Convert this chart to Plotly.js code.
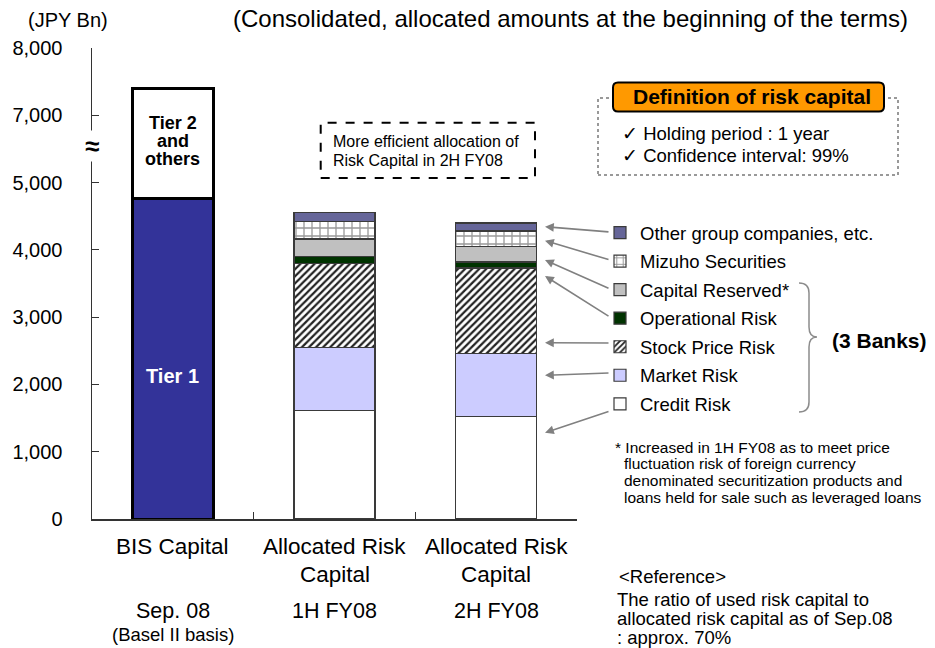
<!DOCTYPE html>
<html><head><meta charset="utf-8">
<script src="https://cdn.plot.ly/plotly-3.0.1.min.js"></script>
<style>html,body{margin:0;padding:0;background:#fff}#chart{width:935px;height:648px}</style>
</head><body><div id="chart"></div>
<script>
// ---------------- data ----------------
const periods = ["Sep. 08", "1H FY08", "2H FY08"];
const categoryTitles = [["BIS Capital"], ["Allocated Risk", "Capital"], ["Allocated Risk", "Capital"]];
const periodNotes = ["(Basel II basis)", "", ""];

// BIS capital, Sep. 08 (JPY Bn)
const tier1 = [4770];
const tier2AndOthers = [2630];
// the y axis skips 5,000-6,000 (shown by the break mark)
const AXIS_BREAK = 1000;
const BREAK_AT = 5000;

// Allocated risk capital (JPY Bn) for [1H FY08, 2H FY08]
const riskPeriods = ["1H FY08", "2H FY08"];
const creditRisk = [1610, 1520];
const marketRisk = [940, 940];
const stockPriceRisk = [1250, 1270];
const operationalRisk = [100, 90];
const capitalReserved = [260, 230];
const mizuhoSecurities = [260, 230];
const otherGroup = [130, 120];

const yTickValues = [0, 1000, 2000, 3000, 4000, 5000, 7000, 8000];
const yTickText = ["0", "1,000", "2,000", "3,000", "4,000", "5,000", "7,000", "8,000"];

// ---------------- geometry helpers ----------------
const W = 935, H = 648, M = {l: 92, r: 358, t: 48, b: 129};
const PW = W - M.l - M.r, PH = H - M.t - M.b;
const px = x => (x - M.l) / PW;
const py = y => (H - M.b - y) / PH;
const FONT = "Liberation Sans, Arial, sans-serif";
const drawn = v => (v > BREAK_AT ? v - AXIS_BREAK : v);

// ---------------- traces ----------------
const lineCol = "#3a3a3a";
const traces = [
  {type: "bar", name: "Tier 1", x: ["Sep. 08"], y: tier1, width: 0.5,
   marker: {color: "#333399", line: {color: "#000", width: 3}}, showlegend: false, hoverinfo: "skip"},
  {type: "bar", name: "Tier 2 and others", x: ["Sep. 08"], y: tier2AndOthers.map(v => v - AXIS_BREAK), width: 0.5,
   marker: {color: "#ffffff", line: {color: "#000", width: 3}}, showlegend: false, hoverinfo: "skip"}
];
const riskSeries = [
  {name: "Credit Risk", values: creditRisk, marker: {color: "#ffffff"}},
  {name: "Market Risk", values: marketRisk, marker: {color: "#ccccff"}},
  {name: "Stock Price Risk", values: stockPriceRisk,
   marker: {color: "#ffffff", pattern: {shape: "/", fgcolor: "#222", bgcolor: "#fff", size: 5, solidity: 0.45}}},
  {name: "Operational Risk", values: operationalRisk, marker: {color: "#003300"}},
  {name: "Capital Reserved*", values: capitalReserved, marker: {color: "#c0c0c0"}},
  {name: "Mizuho Securities", values: mizuhoSecurities,
   marker: {color: "#ffffff", pattern: {shape: "+", fgcolor: "#999", bgcolor: "#fff", size: 8, solidity: 0.3}}},
  {name: "Other group companies, etc.", values: otherGroup, marker: {color: "#666699"}}
];
riskSeries.forEach((s, i) => {
  const m = Object.assign({}, s.marker, {line: {color: lineCol, width: 1.2}});
  traces.push({type: "bar", name: s.name, x: riskPeriods, y: s.values, width: 0.5,
    marker: m, legendgroup: "g" + i, legendrank: 100 - i, hoverinfo: "skip"});
});

// ---------------- annotations ----------------
const ann = [];
function txt(text, x, y, o = {}) {
  ann.push(Object.assign({text, x: px(x), y: py(y), xref: "paper", yref: "paper", showarrow: false,
    xanchor: "left", yanchor: "middle", font: {family: FONT, size: 18, color: "#000"}}, o));
}
txt("(JPY Bn)", 68, 20, {xanchor: "center", font: {family: FONT, size: 20, color: "#000"}});
txt("(Consolidated, allocated amounts at the beginning of the terms)", 570, 18,
  {xanchor: "center", font: {family: FONT, size: 24, color: "#000"}});
txt("≈", 92, 146, {xanchor: "center", bgcolor: "#fff", borderpad: 0,
  font: {family: FONT, size: 26, color: "#000", weight: "bold"}});

// text inside BIS bar
[["Tier 2", 123], ["and", 141], ["others", 159]].forEach(([t, y]) =>
  ann.push({text: "<b>" + t + "</b>", x: periods[0], xref: "x", y: py(y), yref: "paper", showarrow: false,
    yanchor: "middle", font: {family: FONT, size: 18, color: "#000"}}));
ann.push({text: "<b>Tier 1</b>", x: periods[0], xref: "x", y: py(376), yref: "paper", showarrow: false,
  yanchor: "middle", font: {family: FONT, size: 20, color: "#fff"}});

// category labels
periods.forEach((p, i) => {
  categoryTitles[i].forEach((t, j) =>
    ann.push({text: t, x: p, xref: "x", y: py(546 + j * 28), yref: "paper", showarrow: false,
      yanchor: "middle", font: {family: FONT, size: 22.5, color: "#000"}}));
  ann.push({text: p, x: p, xref: "x", y: py(611), yref: "paper", showarrow: false,
    yanchor: "middle", font: {family: FONT, size: 21.5, color: "#000"}});
  if (periodNotes[i]) ann.push({text: periodNotes[i], x: p, xref: "x", y: py(634), yref: "paper",
    showarrow: false, yanchor: "middle", font: {family: FONT, size: 18.5, color: "#000"}});
});

// efficient allocation note
txt("More efficient allocation of", 331, 141, {font: {family: FONT, size: 16, color: "#000"}});
txt("Risk Capital in 2H FY08", 331, 161, {font: {family: FONT, size: 16, color: "#000"}});

// definition box
txt("<b>Definition of risk capital</b>", 752, 97, {xanchor: "center", font: {family: FONT, size: 21, color: "#000"}});
txt("✓ Holding period : 1 year", 620, 133, {font: {family: FONT, size: 18.5, color: "#000"}});
txt("✓ Confidence interval: 99%", 620, 156, {font: {family: FONT, size: 18.5, color: "#000"}});

// 3 banks
txt("<b>(3 Banks)</b>", 830, 340, {font: {family: FONT, size: 21, color: "#000"}});

// footnote
const foot = ["* Increased in 1H FY08 as to meet price", "fluctuation risk of foreign currency",
  "denominated securitization products and", "loans held for sale such as leveraged loans"];
foot.forEach((t, i) => txt(t, i === 0 ? 613 : 622, 447 + i * 16.8, {font: {family: FONT, size: 15.5, color: "#000"}}));

// reference
txt("&lt;Reference&gt;", 617, 576, {font: {family: FONT, size: 18.5, color: "#000"}});
["The ratio of used risk capital to", "allocated risk capital as of Sep.08", ": approx. 70%"].forEach((t, i) =>
  txt(t, 615, 599 + i * 19, {font: {family: FONT, size: 18.5, color: "#000"}}));

// arrows from legend to 2H bar
const arrows = [[226.7, 232], [240.7, 260], [260, 289], [276, 317], [342.7, 343], [375.3, 373], [432.7, 411]];
arrows.forEach(([tip, tail]) => ann.push({text: "", x: px(545), y: py(tip), xref: "paper", yref: "paper",
  showarrow: true, ax: 610 - 545, ay: tail - tip, arrowcolor: "#808080", arrowwidth: 1.6, arrowhead: 2,
  arrowsize: 1.1, standoff: 0, startstandoff: 0}));

// ---------------- shapes ----------------
const P = (x, y) => px(x) + "," + py(y);
function rr(x0, y0, x1, y1, r) {
  return "M" + P(x0 + r, y0) + " L" + P(x1 - r, y0) + " Q" + P(x1, y0) + " " + P(x1, y0 + r) +
    " L" + P(x1, y1 - r) + " Q" + P(x1, y1) + " " + P(x1 - r, y1) + " L" + P(x0 + r, y1) +
    " Q" + P(x0, y1) + " " + P(x0, y1 - r) + " L" + P(x0, y0 + r) + " Q" + P(x0, y0) + " " + P(x0 + r, y0) + " Z";
}
const shapes = [
  {type: "rect", xref: "paper", yref: "paper", x0: px(320.7), x1: px(535), y0: py(178), y1: py(122.7),
   line: {color: "#000", width: 2, dash: "dash"}},
  {type: "rect", xref: "paper", yref: "paper", x0: px(598), x1: px(898), y0: py(175), y1: py(98),
   line: {color: "#999", width: 2, dash: "dot"}},
  {type: "path", xref: "paper", yref: "paper", path: rr(613, 82.5, 884, 111.5, 5),
   fillcolor: "#ff9900", line: {color: "#000", width: 2}},
  {type: "path", xref: "paper", yref: "paper",
   path: "M" + P(799, 283) + " Q" + P(809, 283) + " " + P(809, 293) + " L" + P(809, 327) +
     " Q" + P(809, 337) + " " + P(817, 337) + " Q" + P(809, 337) + " " + P(809, 347) +
     " L" + P(809, 402) + " Q" + P(809, 412) + " " + P(799, 412),
   line: {color: "#8c8c8c", width: 1.5}}
];

const layout = {
  width: W, height: H, margin: M, paper_bgcolor: "#fff", plot_bgcolor: "#fff",
  barmode: "stack", font: {family: FONT, color: "#000"},
  xaxis: {type: "category", categoryorder: "array", categoryarray: periods, range: [-0.5, 2.5],
    showticklabels: false, ticks: "inside", tickson: "boundaries", ticklen: 7, tickcolor: "#333",
    showline: true, linecolor: "#333", linewidth: 1.5, showgrid: false, zeroline: false, fixedrange: true},
  yaxis: {range: [0, drawn(8000)], tickvals: yTickValues.map(drawn), ticktext: yTickText,
    ticks: "inside", ticklen: 7, tickcolor: "#333", showline: true, linecolor: "#333", linewidth: 1.5,
    showgrid: false, zeroline: false, tickfont: {family: FONT, size: 20, color: "#000"},
    ticklabelstandoff: 24, fixedrange: true},
  legend: {x: px(600), xanchor: "left", y: py(214), yanchor: "top", traceorder: "grouped",
    tracegroupgap: 1.5, font: {family: FONT, size: 18.5, color: "#000"}, bgcolor: "rgba(0,0,0,0)",
    itemclick: false, itemdoubleclick: false},
  annotations: ann, shapes: shapes
};
Plotly.newPlot("chart", traces, layout, {displayModeBar: false, staticPlot: true});
</script></body></html>
